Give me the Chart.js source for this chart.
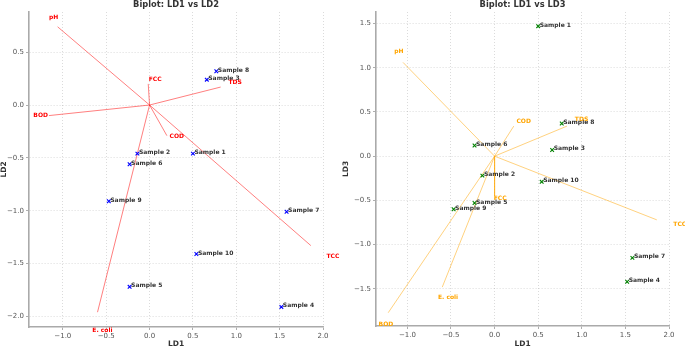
<!DOCTYPE html>
<html lang="en">
<head>
  <meta charset="UTF-8" />
  <title>Biplots LD1 vs LD2 / LD3</title>
  <script src="https://cdn.jsdelivr.net/npm/chart.js"></script>
  <style>
    * { margin: 0; padding: 0; box-sizing: border-box; }
    body { background: #fff; width: 685px; height: 348px; overflow: hidden; }
    .row { display: flex; }
    canvas { display: block; }
  </style>
</head>
<body>
<div class="row">
  <canvas id="chartLD2" width="342" height="348"></canvas>
  <canvas id="chartLD3" width="343" height="348"></canvas>
</div>

<script>
// samples
const sampleNames = ['Sample 1', 'Sample 2', 'Sample 3', 'Sample 4', 'Sample 5',
                     'Sample 6', 'Sample 7', 'Sample 8', 'Sample 9', 'Sample 10'];
const ld1 = [0.50, -0.14, 0.66, 1.52, -0.23, -0.23, 1.58, 0.77, -0.47, 0.54];
const ld2 = [-0.46, -0.46, 0.24, -1.91, -1.72, -0.56, -1.01, 0.32, -0.91, -1.41];
const ld3 = [1.47, -0.22, 0.07, -1.42, -0.53, 0.12, -1.15, 0.37, -0.60, -0.29];

// loadings (arrow ends) and where their labels sit
const varNames = ['pH', 'TDS', 'BOD', 'COD', 'TCC', 'FCC', 'E. coli'];
const load1_12 = [-1.06, 0.82, -1.16, 0.20, 1.86, -0.015, -0.60];
const load2_12 = [0.74, 0.17, -0.10, -0.29, -1.33, 0.20, -1.96];
const lab1_12 = [-1.16, 0.91, -1.34, 0.23, 2.04, -0.01, -0.66];
const lab2_12 = [0.83, 0.21, -0.10, -0.30, -1.43, 0.24, -2.13];

const load1_13 = [-1.05, 0.83, -1.22, 0.22, 1.86, 0.0, -0.60];
const load3_13 = [1.06, 0.34, -1.77, 0.34, -0.72, -0.45, -1.48];
const lab1_13 = [-1.15, 0.92, -1.33, 0.25, 2.05, -0.01, -0.65];
const lab3_13 = [1.18, 0.41, -1.90, 0.39, -0.77, -0.48, -1.60];

// tick labels
const xTicks = [-1.0, -0.5, 0.0, 0.5, 1.0, 1.5, 2.0];
const ld2Ticks = [-2.0, -1.5, -1.0, -0.5, 0.0, 0.5];
const ld3Ticks = [-1.5, -1.0, -0.5, 0.0, 0.5, 1.0, 1.5];

const fmt = v => v.toFixed(1).replace('-', '\u2212');

function axis(range, ticks, title, fit) {
  return {
    type: 'linear',
    min: range[0],
    max: range[1],
    afterBuildTicks: s => { s.ticks = ticks.map(v => ({ value: v })); },
    afterFit: fit,
    grid: { color: 'rgba(0,0,0,0.18)', lineWidth: 0.8, tickLength: 3, tickColor: '#999', tickWidth: 0.8 },
    border: { display: true, color: '#aaa', width: 1.6, dash: [1, 2] },
    ticks: { font: { family: 'DejaVu Sans', size: 7 }, color: '#555', padding: 2, callback: v => fmt(v) },
    title: { display: true, text: title, color: '#333', padding: 0,
             font: { family: 'DejaVu Sans', size: 7.5, weight: 'bold', lineHeight: 1 } }
  };
}

function makeBiplot(id, cfg) {
  const points = ld1.map((v, i) => ({ x: v, y: cfg.ys[i] }));
  const arrows = varNames.map((name, i) => ({
    type: 'line',
    data: [{ x: 0, y: 0 }, { x: cfg.lx[i], y: cfg.ly[i] }],
    borderColor: cfg.lineColor,
    borderWidth: 1,
    pointRadius: 0,
    showLine: true
  }));

  const textPlugin = {
    id: 'biplotText',
    afterDatasetsDraw(chart) {
      const { ctx, chartArea, scales: { x, y } } = chart;
      ctx.save();
      ctx.font = 'bold 6px "DejaVu Sans"';
      ctx.fillStyle = '#333';
      ctx.textAlign = 'left';
      ctx.textBaseline = 'alphabetic';
      sampleNames.forEach((s, i) => {
        ctx.fillText(s, x.getPixelForValue(ld1[i]) + 1.5, y.getPixelForValue(cfg.ys[i]) + 0.5);
      });
      ctx.fillStyle = cfg.textColor;
      ctx.textBaseline = 'middle';
      varNames.forEach((n, i) => {
        ctx.fillText(n, x.getPixelForValue(cfg.tx[i]), y.getPixelForValue(cfg.ty[i]));
      });
      ctx.font = 'bold 8.3px "DejaVu Sans"';
      ctx.fillStyle = '#333';
      ctx.textAlign = 'center';
      ctx.textBaseline = 'alphabetic';
      ctx.fillText(cfg.title, (chartArea.left + chartArea.right) / 2, 6.5);
      ctx.restore();
    }
  };

  return new Chart(document.getElementById(id), {
    type: 'scatter',
    data: {
      datasets: [{
        data: points,
        pointStyle: 'crossRot',
        pointRadius: 2.6,
        borderColor: cfg.markColor,
        borderWidth: 1.1
      }, ...arrows]
    },
    options: {
      responsive: false,
      animation: false,
      layout: { padding: { top: 12, right: cfg.padRight, left: 0, bottom: 0 } },
      plugins: { legend: { display: false }, tooltip: { enabled: false } },
      scales: {
        x: axis(cfg.xRange, xTicks, 'LD1', s => { s.height = cfg.xHeight; }),
        y: axis(cfg.yRange, cfg.yTicks, cfg.yTitle, s => { s.width = cfg.yWidth; })
      }
    },
    plugins: [textPlugin]
  });
}

makeBiplot('chartLD2', {
  title: 'Biplot: LD1 vs LD2', yTitle: 'LD2', ys: ld2,
  lx: load1_12, ly: load2_12, tx: lab1_12, ty: lab2_12,
  xRange: [-1.39, 2.0], yRange: [-2.1, 0.88], yTicks: ld2Ticks,
  padRight: 19, xHeight: 21, yWidth: 29,
  markColor: '#0000ff', lineColor: 'rgba(255,0,0,0.5)', textColor: '#ff0000'
});

makeBiplot('chartLD3', {
  title: 'Biplot: LD1 vs LD3', yTitle: 'LD3', ys: ld3,
  lx: load1_13, ly: load3_13, tx: lab1_13, ty: lab3_13,
  xRange: [-1.36, 2.0], yRange: [-1.92, 1.63], yTicks: ld3Ticks,
  padRight: 16, xHeight: 22, yWidth: 34,
  markColor: '#008000', lineColor: 'rgba(255,165,0,0.5)', textColor: '#ffa500'
});
</script>
</body>
</html>
